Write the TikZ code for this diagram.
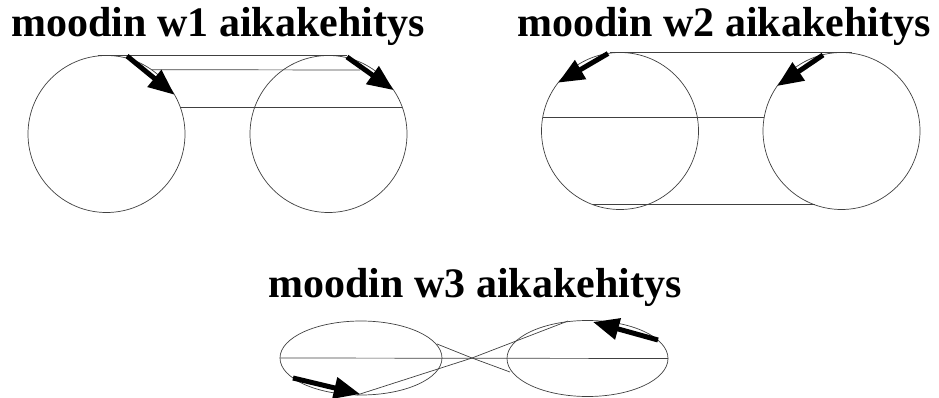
\documentclass[tikz,border=0pt]{standalone}
\usepackage{fontspec}
\setmainfont{Liberation Serif}
\usetikzlibrary{arrows.meta, shapes.geometric}

\begin{document}
\begin{tikzpicture}[x=1pt, y=-1pt,
      ring/.style={circle, draw=black!75, line width=0.7pt, minimum size=157pt,
                   inner sep=0pt, outer sep=0pt},
      oval/.style={ellipse, draw=black!75, line width=0.7pt, inner sep=0pt, outer sep=0pt},
      track/.style={draw=black!75, line width=0.7pt},
      move/.style={-{Triangle[length=26pt, width=21pt]}, line width=5pt},
      title/.style={anchor=base, font=\bfseries\fontsize{42}{46}\selectfont} ]
    \useasboundingbox (0,0) rectangle (939,398);

    % moodi w1
    \node[title] (t1) at (218,37) {moodin w1 aikakehitys};
    \node[ring] (w1l) at (106.5,134) {};
    \node[ring] (w1r) at (328.5,134) {};
    \coordinate (w1s) at (347,55.5);
    \draw[track] ([xshift=-9pt]w1l.north) -- (w1s);
    \draw[track] (w1l.55) -- (360,70);
    \draw[track] (w1l.20) -- (w1r.20);
    \draw[move] (127,56) -- (w1l.30);
    \draw[move] (347,57) -- (w1r.34);

    % moodi w2
    \node[title] (t2) at (724,37) {moodin w2 aikakehitys};
    \node[ring] (w2l) at (620,131) {};
    \node[ring] (w2r) at (841.5,131) {};
    \draw[track] ([xshift=-10pt]w2l.north) -- ([xshift=10.5pt]w2r.north);
    \draw[track] (w2l.170.5) -- (w2r.170.5);
    \draw[track] (w2l.250.5) -- (w2r.250.5);
    \draw[move] (608,53.5) -- (w2l.142.7);
    \draw[move] (823,55) -- (w2r.145);

    % moodi w3
    \node[title] (t3) at (475,297) {moodin w3 aikakehitys};
    \node[oval, minimum width=162pt, minimum height=74pt] (w3l) at (361,358) {};
    \node[oval, minimum width=161pt, minimum height=76pt] (w3r) at (587.5,358.5) {};
    \coordinate (w3x) at (472,358);
    \draw[track] (w3l.west) -- (w3r.east);
    \draw[track] (437,344) -- (w3x) -- (510,372);
    \draw[track] (357,395) -- (w3x) -- (568,321);
    \draw[move] (293,378) -- (360,394);
    \draw[move] (658,340) -- (593,322);
  \end{tikzpicture}
\end{document}
